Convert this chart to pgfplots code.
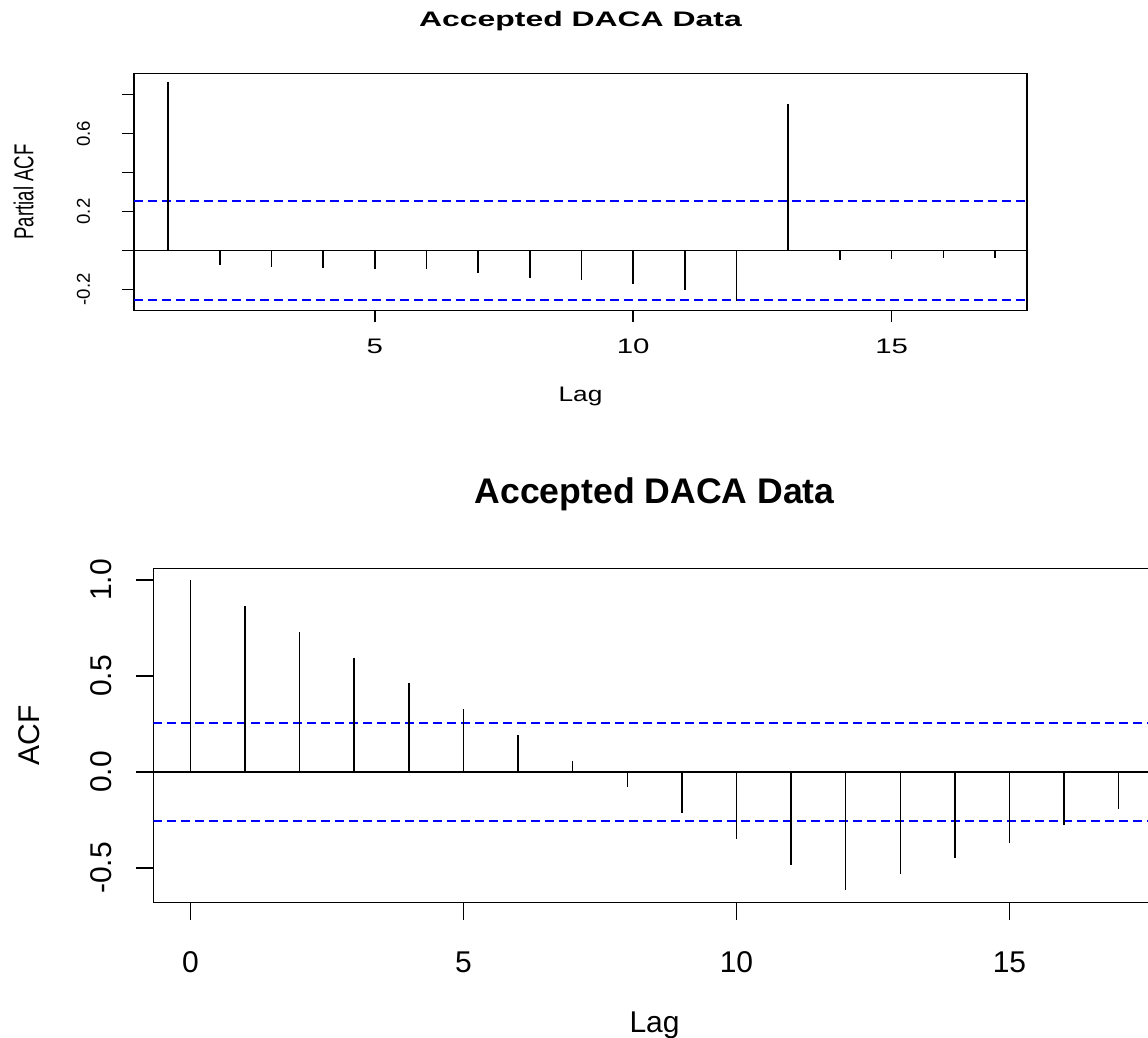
\documentclass[border=0pt]{standalone}
\usepackage{pgfplots}
\pgfplotsset{compat=1.18}
\usepackage{pgfplotstable}
\usepackage{graphicx}
\usepackage{fontspec}
\setmainfont{Liberation Sans}

\pgfplotstableread{
lag pacf
1 0.865
2 -0.077
3 -0.084
4 -0.089
5 -0.096
6 -0.096
7 -0.115
8 -0.141
9 -0.154
10 -0.173
11 -0.204
12 -0.261
13 0.752
14 -0.051
15 -0.045
16 -0.040
17 -0.040
}\pacftable

\pgfplotstableread{
lag acf
0 1.000
1 0.863
2 0.728
3 0.592
4 0.464
5 0.328
6 0.193
7 0.057
8 -0.078
9 -0.214
10 -0.351
11 -0.484
12 -0.615
13 -0.531
14 -0.450
15 -0.368
16 -0.276
17 -0.194
}\acftable

\definecolor{rblue}{RGB}{0,0,255}

\begin{document}
\begin{tikzpicture}
\useasboundingbox (0,0) rectangle (574pt,519pt);
\clip (0,0) rectangle (574pt,519pt);

% ---------- top: PACF ----------
\begin{axis}[
  at={(67pt,363.85pt)}, anchor=south west, scale only axis,
  width=446.5pt, height=118.3pt,
  xmin=0.34, xmax=17.62, ymin=-0.308, ymax=0.908,
  axis line style={black, line width=0.75pt},
  tick style={black, line width=0.75pt},
  tick align=outside, major tick length=6pt,
  xtick pos=left, ytick pos=left,
  xtick={5,10,15},
  xticklabels={\scalebox{1.4}[1]{5},\scalebox{1.4}[1]{10},\scalebox{1.4}[1]{15}},
  ytick={-0.2,0,0.2,0.4,0.6,0.8},
  yticklabels={-0.2,,0.2,,0.6,},
  xticklabel style={font=\fontsize{10.5}{12}\selectfont, anchor=base, yshift=-15.5pt},
  yticklabel style={font=\fontsize{9.3}{11}\selectfont, xshift=-16pt, rotate=90, anchor=base},
  every axis title/.style={at={(axis description cs:0.5,1)}, yshift=23.5pt, anchor=base,
     font=\bfseries\fontsize{10.5}{12}\selectfont},
  every axis x label/.style={at={(axis description cs:0.5,0)}, yshift=-45.7pt, anchor=base,
     font=\fontsize{10.5}{12}\selectfont},
  every axis y label/.style={at={(axis description cs:0,0.5)}, xshift=-50.3pt, rotate=90, anchor=base,
     font=\fontsize{9.3}{11}\selectfont},
  title={\scalebox{1.52}[1]{Accepted DACA Data}},
  xlabel={\scalebox{1.25}[1]{Lag}},
  ylabel={\scalebox{1}[1.47]{Partial ACF}},
  clip=true,
]
\addplot[black, line width=0.75pt, forget plot] coordinates {(0.34,0) (17.62,0)};
\addplot[draw=rblue, line width=1pt, dash pattern=on 4.5pt off 2.5pt] coordinates {(0.34,0.253) (17.62,0.253)};
\addplot[draw=rblue, line width=1pt, dash pattern=on 4.5pt off 2.5pt] coordinates {(0.34,-0.253) (17.62,-0.253)};
\addplot[ycomb, black, line width=0.75pt, mark=none] table[x=lag, y=pacf] {\pacftable};
\end{axis}

% ---------- bottom: ACF ----------
\begin{axis}[
  at={(76.65pt,67.65pt)}, anchor=south west, scale only axis,
  width=501.25pt, height=167.2pt,
  xmin=-0.68, xmax=17.68, ymin=-0.681, ymax=1.061,
  axis line style={black, line width=0.75pt},
  tick style={black, line width=0.75pt},
  tick align=outside, major tick length=8.5pt,
  xtick pos=left, ytick pos=left,
  xtick={0,5,10,15},
  xticklabels={0,5,10,15},
  ytick={-0.5,0,0.5,1},
  yticklabels={-0.5,0.0,0.5,1.0},
  xticklabel style={font=\fontsize{15}{17}\selectfont, anchor=base, yshift=-26.2pt},
  yticklabel style={font=\fontsize{15}{17}\selectfont, xshift=-12.2pt, rotate=90, anchor=base},
  every axis title/.style={at={(axis description cs:0.5,1)}, yshift=32.5pt, anchor=base,
     font=\bfseries\fontsize{17.8}{20}\selectfont},
  every axis x label/.style={at={(axis description cs:0.5,0)}, yshift=-64.7pt, anchor=base,
     font=\fontsize{15}{17}\selectfont},
  every axis y label/.style={at={(axis description cs:0,0.5)}, xshift=-56.7pt, rotate=90, anchor=base,
     font=\fontsize{15}{17}\selectfont},
  title={Accepted DACA Data},
  xlabel={Lag},
  ylabel={ACF},
  clip=true,
]
\addplot[black, line width=0.75pt, forget plot] coordinates {(-0.68,0) (17.68,0)};
\addplot[draw=rblue, line width=1pt, dash pattern=on 4.5pt off 2.5pt] coordinates {(-0.68,0.253) (17.68,0.253)};
\addplot[draw=rblue, line width=1pt, dash pattern=on 4.5pt off 2.5pt] coordinates {(-0.68,-0.253) (17.68,-0.253)};
\addplot[ycomb, black, line width=0.75pt, mark=none] table[x=lag, y=acf] {\acftable};
\end{axis}
\end{tikzpicture}
\end{document}
